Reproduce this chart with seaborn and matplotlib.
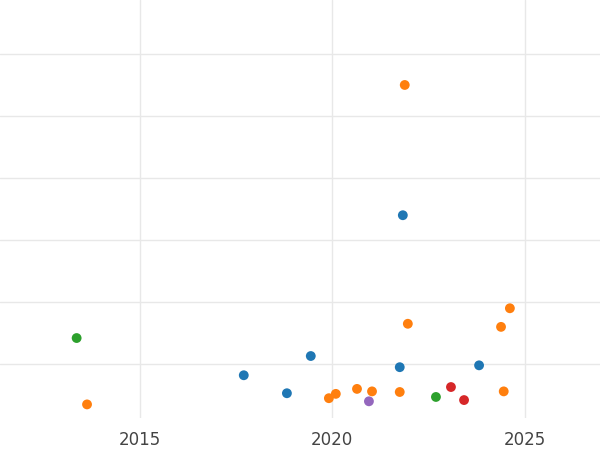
import matplotlib
matplotlib.use("Agg")
import matplotlib.pyplot as plt
import seaborn as sns
import pandas as pd

# values (x in years, y in arbitrary units)
years = [2021.88, 2021.83, 2024.61, 2021.96, 2024.38, 2013.36, 2019.44, 2021.75,
         2023.81, 2017.70, 2020.64, 2023.08, 2021.03, 2020.09, 2018.82, 2021.75,
         2024.45, 2019.91, 2022.69, 2020.95, 2023.42, 2013.63]
values = [5.50, 3.40, 1.90, 1.65, 1.60, 1.42, 1.13, 0.95,
          0.98, 0.82, 0.60, 0.63, 0.56, 0.52, 0.53, 0.55,
          0.56, 0.45, 0.47, 0.40, 0.42, 0.35]
groups = ["B", "A", "B", "B", "B", "C", "A", "A",
          "A", "A", "B", "D", "B", "B", "A", "B",
          "B", "B", "C", "E", "D", "B"]

df = pd.DataFrame({"year": years, "value": values, "group": groups})

sns.set_theme(style="whitegrid", rc={"grid.color": "#e8e8e8"})
fig = plt.figure(figsize=(6, 4.5), dpi=100)
ax = fig.add_axes([0, 0.071, 1, 0.929])
sns.scatterplot(data=df, x="year", y="value", hue="group",
                hue_order=["A", "B", "C", "D", "E"], palette="tab10",
                s=50, edgecolor="none", legend=False, ax=ax)
ax.set_xlim(2011.37, 2026.95)
ax.set_ylim(0.13, 6.87)
ax.set_xticks([2015, 2020, 2025])
ax.set_yticks([1, 2, 3, 4, 5, 6])
ax.set_yticklabels([])
ax.tick_params(axis="x", labelsize=12, colors="#444444")
ax.set_xlabel("")
ax.set_ylabel("")
for s in ax.spines.values():
    s.set_visible(False)
fig.savefig("out.png", dpi=100)
